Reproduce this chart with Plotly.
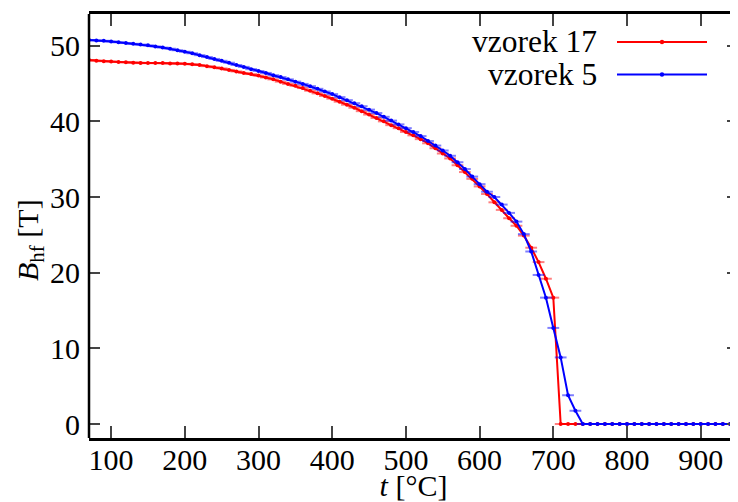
import plotly.graph_objects as go

# temperatures (°C)
T = list(range(70, 960, 10))

# vzorek 17 (red)
b17 = [48.1, 48.0, 47.95, 47.9, 47.85, 47.8, 47.75, 47.7, 47.7, 47.7,
       47.7, 47.65, 47.65, 47.6, 47.55, 47.45, 47.3, 47.15, 47.0, 46.8,
       46.6, 46.4, 46.25, 46.05, 45.8, 45.55, 45.25, 44.95, 44.7, 44.4,
       44.05, 43.7, 43.35, 43.0, 42.6, 42.2, 41.8, 41.35, 40.9, 40.45,
       40.0, 39.5, 39.1, 38.6, 38.15, 37.65, 37.1, 36.45, 35.75, 35.1,
       34.2, 33.3, 32.4, 31.4, 30.4, 29.3, 28.3, 27.2, 26.2, 24.9,
       23.3, 21.4, 19.2, 16.7, 0.0]
b17 += [0.0] * (len(T) - len(b17))

# vzorek 5 (blue)
b5 = [50.75, 50.7, 50.65, 50.55, 50.45, 50.35, 50.25, 50.15, 50.05, 49.9,
      49.75, 49.6, 49.4, 49.2, 49.0, 48.75, 48.5, 48.25, 48.0, 47.75,
      47.45, 47.2, 46.9, 46.65, 46.4, 46.1, 45.85, 45.55, 45.25, 44.95,
      44.65, 44.3, 43.95, 43.6, 43.2, 42.8, 42.4, 42.0, 41.55, 41.1,
      40.6, 40.1, 39.6, 39.1, 38.6, 38.05, 37.4, 36.8, 36.15, 35.45,
      34.6, 33.7, 32.7, 31.7, 30.7, 30.0, 29.0, 27.9, 26.75, 25.1,
      22.8, 19.7, 16.7, 12.7, 8.8, 3.8, 1.75, 0.0]
b5 += [0.0] * (len(T) - len(b5))

# temperature uncertainty (°C)
dT = [8] * len(T)

x_ticks = [100, 200, 300, 400, 500, 600, 700, 800, 900]
y_ticks = [0, 10, 20, 30, 40, 50]

series = [("vzorek 17", b17, "#ff0000", "rgba(255,0,0,0.5)"),
          ("vzorek 5", b5, "#0000ff", "rgba(0,0,255,0.5)")]

FONT = "Liberation Serif"
OFF = 8  # page body margin
W, H = 738 - OFF, 502 - OFF
L, R, TOP, B = 89 - OFF, 0, 14 - OFF, H - (438 - OFF)
FS = 30

fig = go.Figure()
for name, vals, col, ecol in series:
    fig.add_trace(go.Scatter(
        x=T, y=vals, name=name, mode="lines+markers",
        line=dict(color=col, width=2),
        marker=dict(color=col, size=4),
        error_x=dict(type="data", array=dT, visible=True, color=ecol,
                     thickness=2, width=0),
        showlegend=False, cliponaxis=True))

pw = W - L - R
ph = H - TOP - B
def px_x(p):  # window pixel -> paper
    return (p - OFF - L) / pw
def px_y(p):
    return 1 - (p - OFF - TOP) / ph

shapes = []
annotations = []
for i, (name, vals, col, ecol) in enumerate(series):
    yy = 42 + 32.5 * i
    annotations.append(dict(x=px_x(599), y=px_y(yy), xref="paper", yref="paper",
                            text=name, showarrow=False, xanchor="right",
                            yanchor="middle", font=dict(family=FONT, size=31.5, color="black")))
    shapes.append(dict(type="line", xref="paper", yref="paper",
                       x0=px_x(617), x1=px_x(707), y0=px_y(yy), y1=px_y(yy),
                       line=dict(color=col, width=2)))
    shapes.append(dict(type="circle", xref="paper", yref="paper",
                       xsizemode="pixel", ysizemode="pixel",
                       xanchor=px_x(662), yanchor=px_y(yy),
                       x0=-2.2, x1=2.2, y0=-2.2, y1=2.2,
                       fillcolor=col, line=dict(width=0)))

# y-axis title (placed as in the original)
annotations.append(dict(x=px_x(30), y=px_y(240), xref="paper", yref="paper",
                        text="<i>B</i><sub>hf</sub> [T]", textangle=-90, showarrow=False,
                        xanchor="center", yanchor="middle",
                        font=dict(family=FONT, size=FS, color="black")))

shapes.append(dict(type="line", xref="paper", yref="paper", x0=0, x1=0, y0=0, y1=1,
                   line=dict(color="black", width=2.5)))

fig.update_layout(
    width=W, height=H,
    margin=dict(l=L, r=R, t=TOP, b=B, pad=0, autoexpand=False),
    paper_bgcolor="white", plot_bgcolor="white",
    font=dict(family=FONT, size=FS, color="black"),
    shapes=shapes, annotations=annotations,
    xaxis=dict(range=[70, 950.6], tickvals=x_ticks, automargin=False,
               ticks="inside", ticklen=12, tickwidth=1.5, tickcolor="#444",
               showline=True, linewidth=2.5, linecolor="black", mirror="ticks",
               showgrid=False, zeroline=False,
               tickfont=dict(family=FONT, size=FS),
               ticklabelstandoff=-7,
               title=dict(text="<i>t</i> [°C]", standoff=7,
                          font=dict(family=FONT, size=FS))),
    yaxis=dict(range=[-1.85, 54.19], tickvals=y_ticks, automargin=False,
               ticks="inside", ticklen=11, tickwidth=1.5, tickcolor="#444",
               showline=False, mirror="ticks",
               showgrid=False, zeroline=False,
               tickfont=dict(family=FONT, size=FS),
               ticklabelstandoff=8),
)

fig.write_html("out.html")
